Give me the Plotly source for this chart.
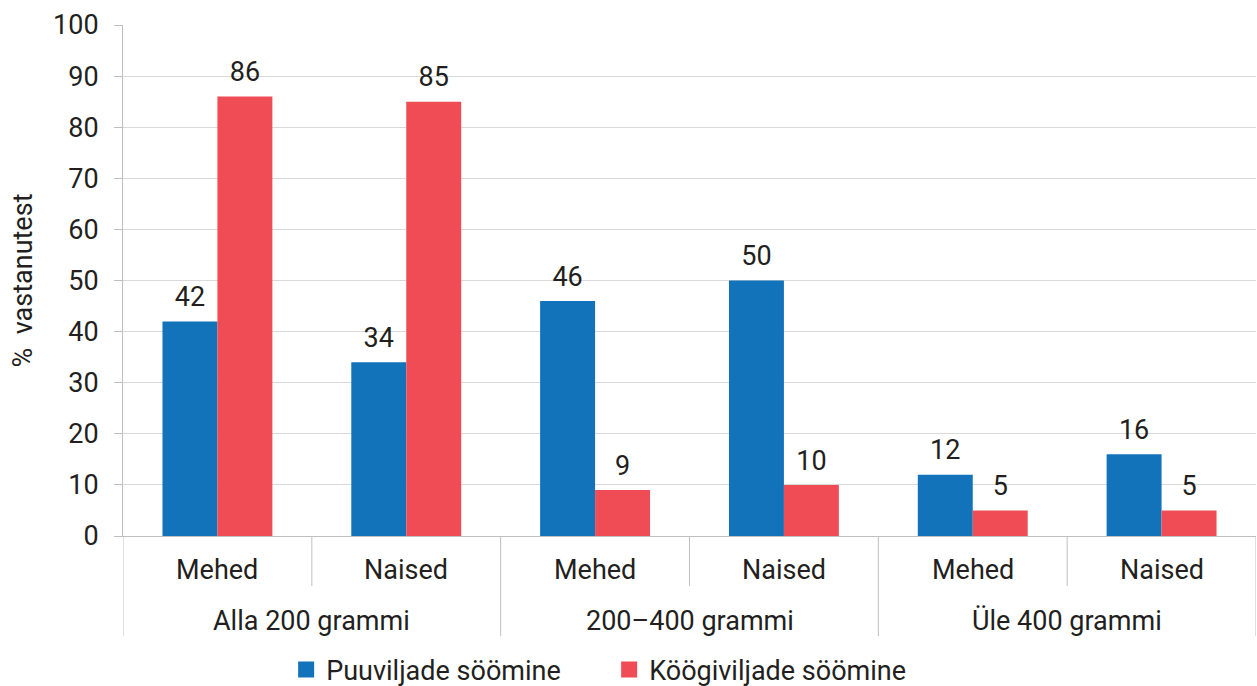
import plotly.graph_objects as go

# Portion-size groups and respondent sex
groups = ["Alla 200 grammi", "200–400 grammi", "Üle 400 grammi"]
sexes = ["Mehed", "Naised"]

# Share of respondents (%) per group/sex slot
fruit = [42, 34, 46, 50, 12, 16]
veg = [86, 85, 9, 10, 5, 5]

series_names = ["Puuviljade söömine", "Köögiviljade söömine"]
colors = ["#1272BA", "#EF4C55"]

TEXT = "#231F20"
LINE = "#BFBFBF"
GRID = "#D9D9D9"
FONT = "Roboto"

cats = [f"{g}|{s}" for g in groups for s in sexes]

fig = go.Figure()

for name, vals, col in zip(series_names, [fruit, veg], colors):
    fig.add_trace(go.Bar(
        x=cats, y=vals, name=name, marker=dict(color=col, line=dict(width=0)),
        offsetgroup=name, showlegend=False,
    ))

# value labels sitting above each bar
for name, vals in zip(series_names, [fruit, veg]):
    fig.add_trace(go.Scatter(
        x=cats, y=vals, mode="markers+text", text=[str(v) for v in vals],
        textposition="top center", offsetgroup=name,
        marker=dict(size=12, color="rgba(0,0,0,0)"),
        textfont=dict(size=27, color=TEXT, family=FONT),
        showlegend=False, hoverinfo="skip", cliponaxis=False,
    ))

# legend keys drawn as larger square swatches
for name, col in zip(series_names, colors):
    fig.add_trace(go.Scatter(
        x=[None], y=[None], mode="markers", name=name,
        marker=dict(symbol="square", size=16, color=col),
        hoverinfo="skip",
    ))

n = len(cats)
shapes = []
# outer dividers between portion groups (span both label rows)
for k in range(len(groups) + 1):
    xk = k * len(sexes) - 0.5
    shapes.append(dict(type="line", xref="x", yref="paper", x0=xk, x1=xk,
                       y0=0, y1=-0.196, line=dict(color=LINE, width=1)))
# inner dividers between sexes (first label row only)
for k in range(len(groups)):
    xk = k * len(sexes) + 0.5
    shapes.append(dict(type="line", xref="x", yref="paper", x0=xk, x1=xk,
                       y0=0, y1=-0.098, line=dict(color=LINE, width=1)))

annotations = []
for i, c in enumerate(cats):
    annotations.append(dict(x=i, y=-0.066, xref="x", yref="paper",
                            text=c.split("|")[1], showarrow=False,
                            yanchor="middle", xanchor="center",
                            font=dict(size=27, color=TEXT, family=FONT)))
for k, g in enumerate(groups):
    annotations.append(dict(x=k * len(sexes) + (len(sexes) - 1) / 2, y=-0.166,
                            xref="x", yref="paper", text=g, showarrow=False,
                            yanchor="middle", xanchor="center",
                            font=dict(size=27, color=TEXT, family=FONT)))

fig.update_layout(
    width=1257, height=686,
    margin=dict(l=123, r=1, t=25, b=150, autoexpand=False),
    paper_bgcolor="white", plot_bgcolor="white",
    barmode="group", bargap=0.418, bargroupgap=0,
    scattermode="group", scattergap=0.418,
    font=dict(family=FONT, color=TEXT, size=27),
    shapes=shapes, annotations=annotations,
    legend=dict(orientation="h", x=0.144, y=-0.262, xanchor="left",
                yanchor="middle", font=dict(size=27, color=TEXT, family=FONT),
                itemsizing="trace", entrywidth=278, entrywidthmode="pixels",
                bgcolor="rgba(0,0,0,0)"),
    xaxis=dict(showticklabels=False, showgrid=False, ticks="",
               showline=True, linecolor=LINE, linewidth=1,
               range=[-0.5, n - 0.5], fixedrange=True),
    yaxis=dict(range=[0, 100], dtick=10, showgrid=True, gridcolor=GRID,
               gridwidth=1, zeroline=False, showline=True, linecolor=LINE,
               linewidth=1, ticks="outside", ticklen=8, tickcolor=LINE,
               ticklabelstandoff=10,
               tickfont=dict(size=27, color=TEXT, family=FONT),
               title=dict(text="%  vastanutest", standoff=12,
                          font=dict(size=27, color=TEXT, family=FONT))),
)

fig.write_html("out.html")
